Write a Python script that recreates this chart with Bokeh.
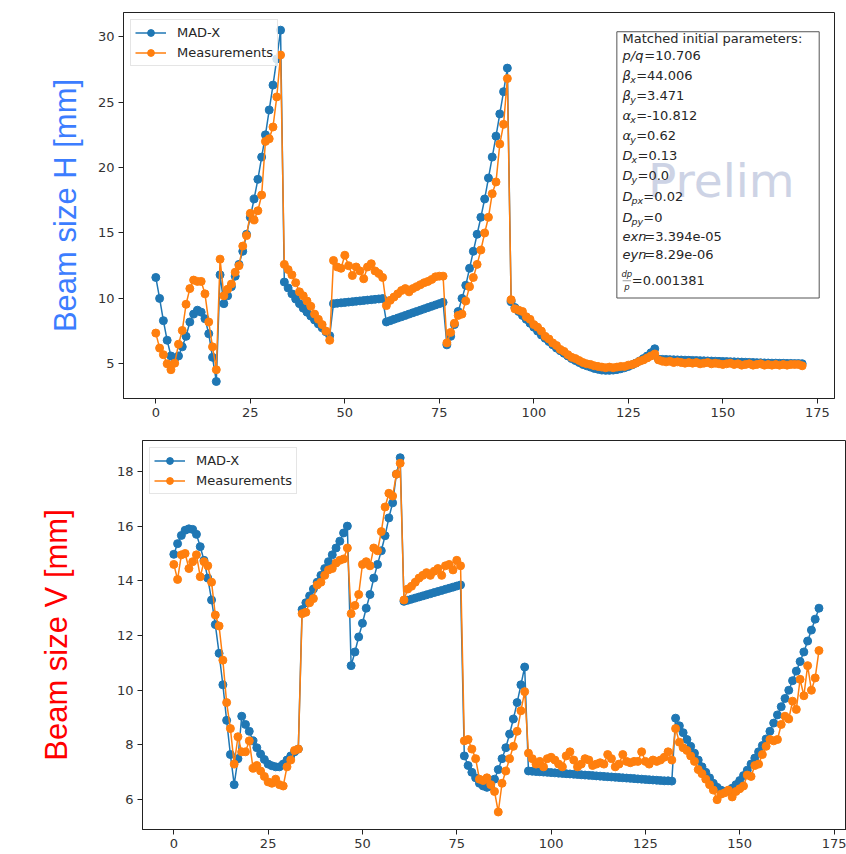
from bokeh.plotting import figure
from bokeh.layouts import column, row
from bokeh.models import FixedTicker, Range1d, Legend, LegendItem, Label, BoxAnnotation
from bokeh.embed import file_html
from bokeh.resources import INLINE

# ---------------- data ----------------
element = list(range(172))

madx_h = [
    11.6, 10.0, 8.3, 6.8, 5.6, 5.4, 5.6, 6.3, 7.1, 8.2, 8.8, 9.1, 8.95, 8.45, 7.3, 5.5, 3.65,
    11.8, 9.6, 10.2, 10.9, 11.7, 12.6, 13.6, 14.9, 16.2, 17.6, 19.1, 20.8, 22.5, 24.4, 26.3, 28.3, 30.5,
    11.25, 10.8, 10.35, 9.95, 9.6, 9.25, 8.95, 8.65, 8.35, 8.05, 7.75, 7.45, 7.15,
    9.6, 9.63, 9.66, 9.69, 9.72, 9.75, 9.78, 9.81, 9.84, 9.87, 9.9, 9.93, 9.96, 9.99,
    8.2, 8.3, 8.4, 8.5, 8.6, 8.7, 8.8, 8.9, 9.0, 9.1, 9.2, 9.3, 9.4, 9.5, 9.6, 9.7,
    6.45, 7.1, 8.0, 9.0, 10.0, 11.0, 12.3, 13.6, 14.9, 16.2, 17.6, 19.2, 20.8, 22.4, 24.1, 25.8, 27.6,
    9.75, 9.3, 9.0, 8.7, 8.4, 8.1, 7.8, 7.5, 7.2, 6.95,
    6.7, 6.45, 6.2, 6.0, 5.8, 5.6, 5.4, 5.25, 5.1, 4.95,
    4.85, 4.75, 4.65, 4.58, 4.52, 4.5, 4.5, 4.52, 4.56, 4.62,
    4.7, 4.8, 4.92, 5.06, 5.22, 5.4, 5.6, 5.85, 6.15,
    5.35, 5.34, 5.33, 5.32, 5.31, 5.30, 5.29, 5.28, 5.27, 5.26,
    5.25, 5.24, 5.23, 5.22, 5.21, 5.2, 5.19, 5.18, 5.17, 5.16,
    5.15, 5.14, 5.13, 5.12, 5.11, 5.1, 5.09, 5.08, 5.07, 5.06,
    5.05, 5.05, 5.04, 5.04, 5.03, 5.03, 5.02, 5.02, 5.01,
]

meas_h = [
    7.35, 6.2, 5.7, 5.0, 4.55, 5.05, 6.5, 7.55, 9.55, 10.75, 11.4, 11.3, 11.3, 10.35, 8.2, 6.3, 4.55,
    13.0, 10.2, 10.7, 11.1, 12.0, 12.5, 14.0, 14.8, 16.5, 16.0, 16.7, 17.9, 22.0, 22.2, 23.1, 25.4, 28.6,
    12.6, 12.2, 11.8, 11.2, 10.5, 10.2, 9.8, 9.4, 8.8, 8.4, 8.0, 7.5, 6.8,
    12.9, 12.4, 12.3, 13.3, 12.5, 11.75, 12.4, 12.1, 11.5, 12.4, 12.65, 12.1, 11.9, 11.6,
    9.45, 9.85, 10.1, 10.35, 10.6, 10.75, 10.5, 10.75, 10.9, 11.05, 11.2, 11.3, 11.45, 11.65, 11.7, 11.7,
    6.6, 7.4, 8.1, 8.7, 8.8, 9.8, 10.9, 11.6, 12.6, 13.7, 15.0, 16.2, 18.0, 18.9, 21.8, 23.3, 26.8,
    9.9, 9.2, 9.1, 9.0, 8.6, 8.4, 8.0, 7.8, 7.5, 7.1,
    6.9, 6.6, 6.4, 6.1, 5.95, 5.7, 5.5, 5.4, 5.25, 5.1,
    5.0, 4.95, 4.85, 4.8, 4.75, 4.7, 4.75, 4.7, 4.75, 4.8,
    4.8, 4.9, 4.95, 5.05, 5.2, 5.3, 5.45, 5.6, 5.75,
    5.3, 5.2, 5.15, 5.2, 5.1, 5.15, 5.1, 5.05, 5.1, 5.05,
    5.1, 5.0, 5.05, 5.1, 5.0, 5.05, 5.0, 4.95, 5.0, 5.05,
    4.95, 5.0, 4.9, 4.95, 5.0, 4.9, 4.95, 5.0, 4.9, 4.95,
    4.9, 4.95, 4.9, 4.95, 4.9, 4.95, 4.95, 4.95, 4.85,
]

madx_v = [
    14.97, 15.36, 15.66, 15.85, 15.9, 15.88, 15.7, 15.25, 14.75, 14.1,
    13.3, 12.4, 11.35, 10.2, 8.9, 7.65, 6.55,
    7.5, 9.05, 8.75, 8.5, 8.15, 7.9, 7.67, 7.47, 7.3, 7.24, 7.2, 7.2, 7.3, 7.45, 7.6, 7.75, 7.85,
    12.95, 13.2, 13.45, 13.7, 13.95, 14.2, 14.45, 14.7, 14.95, 15.2, 15.45, 15.75, 16.0,
    10.9, 11.4, 11.95, 12.45, 13.0, 13.5, 14.1, 14.6, 15.1, 15.65, 16.3, 16.85, 17.9, 18.5,
    13.25, 13.29, 13.33, 13.37, 13.41, 13.45, 13.49, 13.53, 13.57, 13.61, 13.65, 13.69, 13.73, 13.77, 13.81, 13.85,
    7.6, 7.25, 7.0, 6.8, 6.6, 6.5, 6.45, 6.5, 6.75, 7.1, 7.5, 7.9, 8.4, 8.95, 9.55, 10.2, 10.85,
    7.05, 7.04, 7.03, 7.02, 7.01, 7.00, 6.99, 6.98, 6.97, 6.96,
    6.95, 6.94, 6.93, 6.92, 6.91, 6.90, 6.89, 6.88, 6.87, 6.86,
    6.85, 6.84, 6.83, 6.82, 6.81, 6.80, 6.79, 6.78, 6.77, 6.76,
    6.75, 6.74, 6.73, 6.72, 6.71, 6.70, 6.69, 6.69, 6.68,
    8.98, 8.7, 8.45, 8.2, 7.95, 7.7, 7.45, 7.2, 7.0, 6.8,
    6.6, 6.45, 6.35, 6.3, 6.32, 6.42, 6.55, 6.7, 6.88, 7.08,
    7.3, 7.52, 7.75, 7.98, 8.22, 8.5, 8.8, 9.1, 9.4, 9.7,
    10.0, 10.35, 10.7, 11.05, 11.4, 11.8, 12.2, 12.6, 13.0,
]

meas_v = [
    14.6, 14.05, 14.95, 15.0, 14.45, 14.7, 14.95, 14.15, 14.7, 14.55,
    13.95, 12.75, 12.35, 11.1, 9.55, 8.6, 7.3, 8.3, 7.75, 7.75,
    8.15, 7.15, 7.25, 7.05, 6.85, 6.65, 6.6, 6.75, 6.55, 6.5,
    7.2, 7.45, 7.8, 7.85,
    12.8, 12.85, 13.2, 13.35, 13.85, 13.95, 14.2, 14.4, 14.45, 14.65, 14.75, 14.8, 15.2,
    12.8, 13.1, 13.5, 14.6, 14.7, 14.55, 15.2, 15.1, 15.8, 16.7, 17.2, 17.1, 17.9, 18.3,
    13.3, 13.7, 13.8, 13.95, 14.1, 14.2, 14.3, 14.2, 14.35, 14.45, 14.2, 14.55, 14.6, 14.4, 14.75, 14.55,
    8.15, 8.2, 7.85, 7.5, 6.75, 6.7, 6.8, 6.55, 6.3, 5.55, 6.6, 7.05, 7.5, 7.95, 8.5, 9.25, 9.95,
    7.7, 7.5, 7.3, 7.4, 7.2, 7.5, 7.55, 7.45, 7.3, 7.2,
    7.6, 7.75, 7.45, 7.2, 7.3, 7.5, 7.45, 7.25, 7.3, 7.35,
    7.3, 7.65, 7.5, 7.2, 7.3, 7.65, 7.4, 7.35, 7.4, 7.4,
    7.75, 7.4, 7.3, 7.45, 7.4, 7.45, 7.55, 7.75, 7.45,
    8.6, 8.1, 7.9, 7.8, 7.6, 7.4, 7.1, 6.95, 6.75, 6.55,
    6.35, 6.0, 6.2, 6.25, 6.35, 6.1, 6.3, 6.4, 6.5, 6.9,
    6.85, 7.25, 7.3, 7.65, 7.95, 8.2, 8.15, 8.2, 8.75, 9.05,
    8.95, 9.6, 9.3, 10.4, 9.8, 10.9, 10.0, 10.45, 11.45,
]

x_ticks = [0, 25, 50, 75, 100, 125, 150, 175]
h_ticks = [5, 10, 15, 20, 25, 30]
v_ticks = [6, 8, 10, 12, 14, 16, 18]

series_names = ["MAD-X", "Measurements"]

# matched initial parameters: (symbol, subscript, value)
param_rows = [
    ("p/q", "", "10.706"),
    ("\u03b2", "x", "44.006"),
    ("\u03b2", "y", "3.471"),
    ("\u03b1", "x", "-10.812"),
    ("\u03b1", "y", "0.62"),
    ("D", "x", "0.13"),
    ("D", "y", "0.0"),
    ("D", "px", "0.02"),
    ("D", "py", "0"),
    ("exn", "", "3.394e-05"),
    ("eyn", "", "8.29e-06"),
]
dpp_value = "0.001381"

# ---------------- styling ----------------
BLUE = "#1f77b4"
ORANGE = "#ff7f0e"
FONT = "DejaVu Sans"
TXT = "#262626"


def base_fig(width, height, xr, yr, borders, yticks, ylabel, ylabel_color, lab_standoff):
    left, right, top, bottom = borders
    p = figure(width=width, height=height,
               x_range=Range1d(*xr), y_range=Range1d(*yr),
               output_backend="svg", toolbar_location=None,
               min_border_left=left, min_border_right=right,
               min_border_top=top, min_border_bottom=bottom)
    p.grid.visible = False
    p.outline_line_color = "#222222"
    p.outline_line_width = 1
    p.outline_line_alpha = 1
    p.background_fill_color = "white"
    p.border_fill_color = "white"
    p.xaxis.ticker = FixedTicker(ticks=x_ticks)
    p.yaxis.ticker = FixedTicker(ticks=yticks)
    for ax in (p.xaxis[0], p.yaxis[0]):
        ax.axis_line_color = "#222222"
        ax.major_tick_line_color = "#222222"
        ax.major_tick_out = 5
        ax.major_tick_in = 0
        ax.minor_tick_out = 0
        ax.minor_tick_in = 0
        ax.major_label_text_font = FONT
        ax.major_label_text_font_size = "13px"
        ax.major_label_text_color = "#333333"
        ax.major_label_standoff = 4
    p.yaxis.axis_label = ylabel
    p.yaxis.axis_label_text_font = "Liberation Sans"
    p.yaxis.axis_label_text_font_size = "31px"
    p.yaxis.axis_label_text_font_style = "normal"
    p.yaxis.axis_label_text_color = ylabel_color
    p.yaxis.axis_label_standoff = lab_standoff
    return p


def add_series(p, y1, y2):
    l1 = p.line(element, y1, line_color=BLUE, line_width=1.5)
    s1 = p.scatter(element, y1, size=8, fill_color=BLUE, line_color=BLUE)
    l2 = p.line(element, y2, line_color=ORANGE, line_width=1.5)
    s2 = p.scatter(element, y2, size=8, fill_color=ORANGE, line_color=ORANGE)
    legend = Legend(items=[LegendItem(label=series_names[0], renderers=[l1, s1]),
                           LegendItem(label=series_names[1], renderers=[l2, s2])],
                    location="top_left")
    legend.label_text_font = FONT
    legend.label_text_font_size = "13px"
    legend.label_text_color = TXT
    legend.border_line_color = "#cccccc"
    legend.border_line_width = 1
    legend.background_fill_alpha = 0.8
    legend.padding = 4
    legend.spacing = 3
    legend.label_height = 17
    legend.glyph_height = 17
    legend.glyph_width = 31
    legend.label_standoff = 11
    legend.margin = 7
    p.add_layout(legend)


# ---------------- top figure ----------------
TX = (-8.55, 179.55)
TY = (2.35, 31.85)
top = base_fig(846, 425, TX, TY, (123, 12, 12, 27), h_ticks,
               "Beam size H [mm]", "#3c7dff", 12)
add_series(top, madx_h, meas_h)

# pixel scale of top frame (for text-box layout offsets)
px_x = 711 / (TX[1] - TX[0])
px_y = 386 / (TY[1] - TY[0])

box_l, box_r, box_t, box_b = 121.97, 175.5, 30.38, 10.03
top.add_layout(BoxAnnotation(left=box_l, right=box_r, top=box_t, bottom=box_b,
                             fill_color="white", fill_alpha=0.0,
                             line_color="#555555", line_width=1, line_alpha=1))

top.add_layout(Label(x=130.2, y=19.0, text="Prelim", text_font=FONT,
                     text_font_size="47px", text_color="#cdd3e5",
                     text_align="left", text_baseline="middle"))


def put(text, dx, dy, size=13, style="normal", align="left"):
    top.add_layout(Label(x=box_l, y=box_t, x_offset=dx, y_offset=-dy, text=text,
                         text_font=FONT, text_font_size=f"{size}px",
                         text_font_style=style, text_color=TXT,
                         text_align=align, text_baseline="middle"))


put("Matched initial parameters:", 5.7, 6.7)
row_y = [24.7, 44.7, 64.7, 84.7, 104.7, 124.7, 144.7, 166.0, 186.3, 206.0, 223.3]
for (sym, sub, val), cy in zip(param_rows, row_y):
    if sub:
        put(sym, 5.7, cy - 1, style="italic")
        sym_w = 9.0 if sym == "D" else 7.6
        sub_w = 5.2 * len(sub) + (0.6 if len(sub) > 1 else 0)
        put(sub, 5.7 + sym_w, cy + 3, size=9.5, style="italic")
        put("=" + val, 5.7 + sym_w + sub_w + 0.8, cy - 1)
    else:
        put(sym, 5.7, cy - 1, style="italic")
        put("=" + val, 27.5, cy - 1)

# dp/p fraction
frac_c = 249.0
put("dp", 10.0, frac_c - 6.5, size=8.5, style="italic", align="center")
put("p", 10.0, frac_c + 6.5, size=8.5, style="italic", align="center")
bar_y = box_t - frac_c / px_y
top.add_layout(BoxAnnotation(left=box_l + 5.8 / px_x, right=box_l + 14.2 / px_x,
                             top=bar_y, bottom=bar_y, fill_alpha=0,
                             line_color=TXT, line_width=0.8))
put("=" + dpp_value, 15.0, frac_c)

# ---------------- bottom figure ----------------
BX = (-8.3, 178.3)
BY = (4.91, 19.13)
bottom = base_fig(846, 429, BX, BY, (142, 0, 15, 25), v_ticks,
                  "Beam size V [mm]", "#ff0000", 40)
add_series(bottom, madx_v, meas_v)

# wrap each plot separately so their frames are not aligned to each other
layout = column(row(top), row(bottom))
open("out.html", "w").write(file_html(layout, INLINE))
